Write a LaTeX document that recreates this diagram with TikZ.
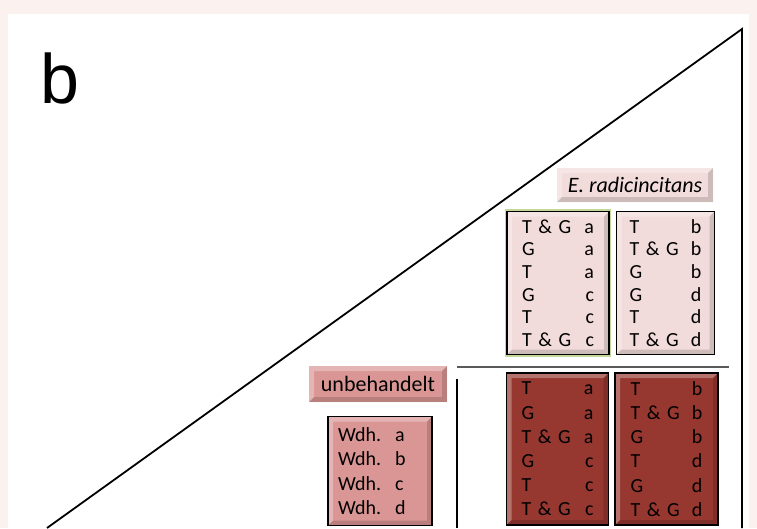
\documentclass[tikz,border=0pt]{standalone}
\usepackage{fontspec}
\setmainfont{Carlito}
\newfontfamily\panelfont{Liberation Sans}
\usetikzlibrary{positioning}
\definecolor{sheetPink}{RGB}{251,242,240}
\definecolor{cellLight}{RGB}{242,220,219}
\definecolor{cellDark}{RGB}{150,55,48}
\definecolor{cellSalmon}{RGB}{217,150,148}
\definecolor{glowGreen}{RGB}{196,215,155}
\definecolor{ruleGray}{RGB}{90,90,90}

\begin{document}
\begin{tikzpicture}[x=1pt,y=-1pt,
      bevel/.style={path picture={
        \fill[white,opacity=.3] (path picture bounding box.south west) -- (path picture bounding box.north west)
          -- (path picture bounding box.north east) -- ([shift={(-5pt,-5pt)}]path picture bounding box.north east)
          -- ([shift={(5pt,-5pt)}]path picture bounding box.north west) -- ([shift={(5pt,5pt)}]path picture bounding box.south west) -- cycle;
        \fill[black,opacity=.15] (path picture bounding box.south west) -- (path picture bounding box.south east)
          -- (path picture bounding box.north east) -- ([shift={(-5pt,-5pt)}]path picture bounding box.north east)
          -- ([shift={(-5pt,5pt)}]path picture bounding box.south east) -- ([shift={(5pt,5pt)}]path picture bounding box.south west) -- cycle;}},
      grid/.style={draw=black,line width=1.5pt,bevel,inner sep=0pt,minimum width=102pt,align=left,text width=72pt},
      upper/.style={grid,fill=cellLight,minimum height=143pt,font=\fontsize{20}{22.6}\selectfont},
      lower/.style={grid,fill=cellDark,minimum height=152pt,font=\fontsize{20}{24.2}\selectfont},
      tag/.style={fill=#1,bevel,inner sep=0pt,font=\fontsize{22}{24}\selectfont},
      rule/.style={line width=1.4pt}]
    \useasboundingbox (0,0) rectangle (757,528);
    \fill[sheetPink] (0,0) rectangle (757,528);
    \fill[white] (8,14) rectangle (749,528);
    % triangle
    \coordinate (apex) at (742,29);
    \coordinate (foot) at (47,528);
    \coordinate (edge) at (742,528);
    \draw[line width=1.8pt,line join=miter] (foot) -- (apex) -- (edge);
    \node[anchor=base west,inner sep=0pt,font=\panelfont\fontsize{70}{70}\selectfont] (panel) at (40,103) {b};
    % treated
    \node[tag=cellLight,minimum width=156pt,minimum height=34pt] (er) at (635,185) {\itshape E. radicincitans};
    \node[upper,preaction={draw=glowGreen,line width=4.5pt}] (ul) at (558,283)
      {T \& G\hfill a\\ G\hfill a\\ T\hfill a\\ G\hfill c\\ T\hfill c\\ T \& G\hfill c};
    \node[upper,minimum width=98pt,right=6pt of ul] (ur)
      {T\hfill b\\ T \& G\hfill b\\ G\hfill b\\ G\hfill d\\ T\hfill d\\ T \& G\hfill d};
    % untreated
    \node[lower] (ll) at (557.5,449)
      {T\hfill a\\ G\hfill a\\ T \& G\hfill a\\ G\hfill c\\ T\hfill c\\ T \& G\hfill c};
    \node[lower,minimum width=103pt,right=5pt of ll] (lr)
      {T\hfill b\\ T \& G\hfill b\\ G\hfill b\\ T\hfill d\\ G\hfill d\\ T \& G\hfill d};
    \node[tag=cellSalmon,minimum width=138pt,minimum height=36pt] (ub) at (378,384) {unbehandelt};
    \node[draw=black,line width=1.5pt,fill=cellSalmon,bevel,inner sep=0pt,minimum width=104pt,minimum height=109pt,
      align=left,text width=84pt,font=\fontsize{20}{24.3}\selectfont] (wdh) at (380,471)
      {Wdh.\hspace{14pt}a\\ Wdh.\hspace{14pt}b\\ Wdh.\hspace{14pt}c\\ Wdh.\hspace{14pt}d};
    % separators
    \draw[rule,ruleGray] (457,367) -- (729,367);
    \draw[rule] (457,379) -- (457,528);
  \end{tikzpicture}
\end{document}
